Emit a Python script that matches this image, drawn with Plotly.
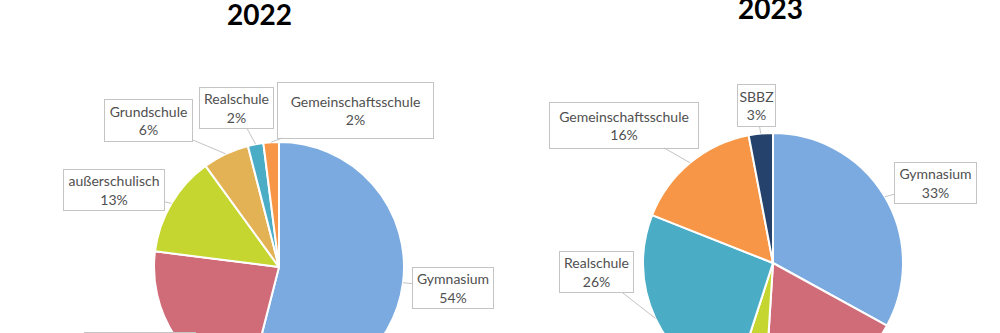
import math
import plotly.graph_objects as go

# ---------------- data ----------------
years = ["2022", "2023"]
labels_2022 = ["Gymnasium", "Werkrealschule", "außerschulisch", "Grundschule", "Realschule", "Gemeinschaftsschule"]
values_2022 = [54, 23, 13, 6, 2, 2]
labels_2023 = ["Gymnasium", "Werkrealschule", "außerschulisch", "Realschule", "Gemeinschaftsschule", "SBBZ"]
values_2023 = [33, 18, 4, 26, 16, 3]

# ---------------- style / layout ----------------
W, H = 1000, 420
colors = {
    "Gymnasium": "#7AAADF",
    "Werkrealschule": "#D06C78",
    "außerschulisch": "#C6D630",
    "Grundschule": "#E2B254",
    "Realschule": "#4BACC6",
    "Gemeinschaftsschule": "#F79646",
    "SBBZ": "#24426B",
}
# pie geometry (pixels): centre x, centre y, radius
pie_geom = {"2022": (279, 267, 125), "2023": (773, 263, 130)}
title_pos = {"2022": (259, 14), "2023": (770, 8)}
# label boxes: centre x, centre y, width, height (pixels)
box_2022 = {
    "Gymnasium": (453, 288, 80, 40),
    "Werkrealschule": (140, 353, 110, 40),
    "außerschulisch": (114, 190, 100, 40),
    "Grundschule": (148, 121, 87, 41),
    "Realschule": (236, 108, 73, 40),
    "Gemeinschaftsschule": (355, 110, 155, 55),
}
box_2023 = {
    "Gymnasium": (935, 183, 81, 40),
    "Werkrealschule": (900, 370, 110, 40),
    "außerschulisch": (700, 380, 100, 40),
    "Realschule": (596, 272, 73, 40),
    "Gemeinschaftsschule": (624, 125, 148, 45),
    "SBBZ": (756, 106, 37, 41),
}
FONT = "Lato"
TEXT_COLOR = "#505050"
BOX_COLOR = "#C4C4C4"

fig = go.Figure()
annotations = []

for year, labs, vals, boxes in [("2022", labels_2022, values_2022, box_2022),
                                ("2023", labels_2023, values_2023, box_2023)]:
    cx, cy, r = pie_geom[year]
    fig.add_trace(go.Pie(
        labels=labs, values=vals, sort=False, direction="clockwise", rotation=0,
        marker=dict(colors=[colors[l] for l in labs], line=dict(color="white", width=2)),
        textinfo="none", hoverinfo="label+percent", showlegend=False,
        domain=dict(x=[(cx - r) / W, (cx + r) / W], y=[1 - (cy + r) / H, 1 - (cy - r) / H]),
        name=year,
    ))
    total = sum(vals)
    cum = 0
    for lab, v in zip(labs, vals):
        mid = (cum + v / 2) / total * 2 * math.pi
        cum += v
        tx = cx + r * math.sin(mid)
        ty = cy - r * math.cos(mid)
        bx, by, bw, bh = boxes[lab]
        annotations.append(dict(
            x=tx / W, y=1 - ty / H, xref="paper", yref="paper",
            ax=bx - tx, ay=by - ty, axref="pixel", ayref="pixel",
            text=f"{lab}<br>{round(v / total * 100)}%",
            showarrow=True, arrowhead=0, arrowwidth=1, arrowcolor=BOX_COLOR, standoff=0,
            font=dict(family=FONT, size=14, color=TEXT_COLOR),
            bgcolor="white", bordercolor=BOX_COLOR, borderwidth=1, borderpad=0,
            width=bw, height=bh, align="center", valign="middle",
        ))
    tx_, ty_ = title_pos[year]
    annotations.append(dict(
        x=tx_ / W, y=1 - ty_ / H, xref="paper", yref="paper", showarrow=False,
        text=f"<b>{year}</b>", font=dict(family=FONT, size=28, color="black"),
        xanchor="center", yanchor="middle",
    ))

fig.update_layout(
    width=W, height=H, margin=dict(l=0, r=0, t=0, b=0),
    paper_bgcolor="white", plot_bgcolor="white",
    annotations=annotations,
)

fig.write_html(
    "out.html",
    post_script="document.documentElement.style.overflow='hidden';"
                "document.body.style.overflow='hidden';document.body.style.margin='0';",
)
